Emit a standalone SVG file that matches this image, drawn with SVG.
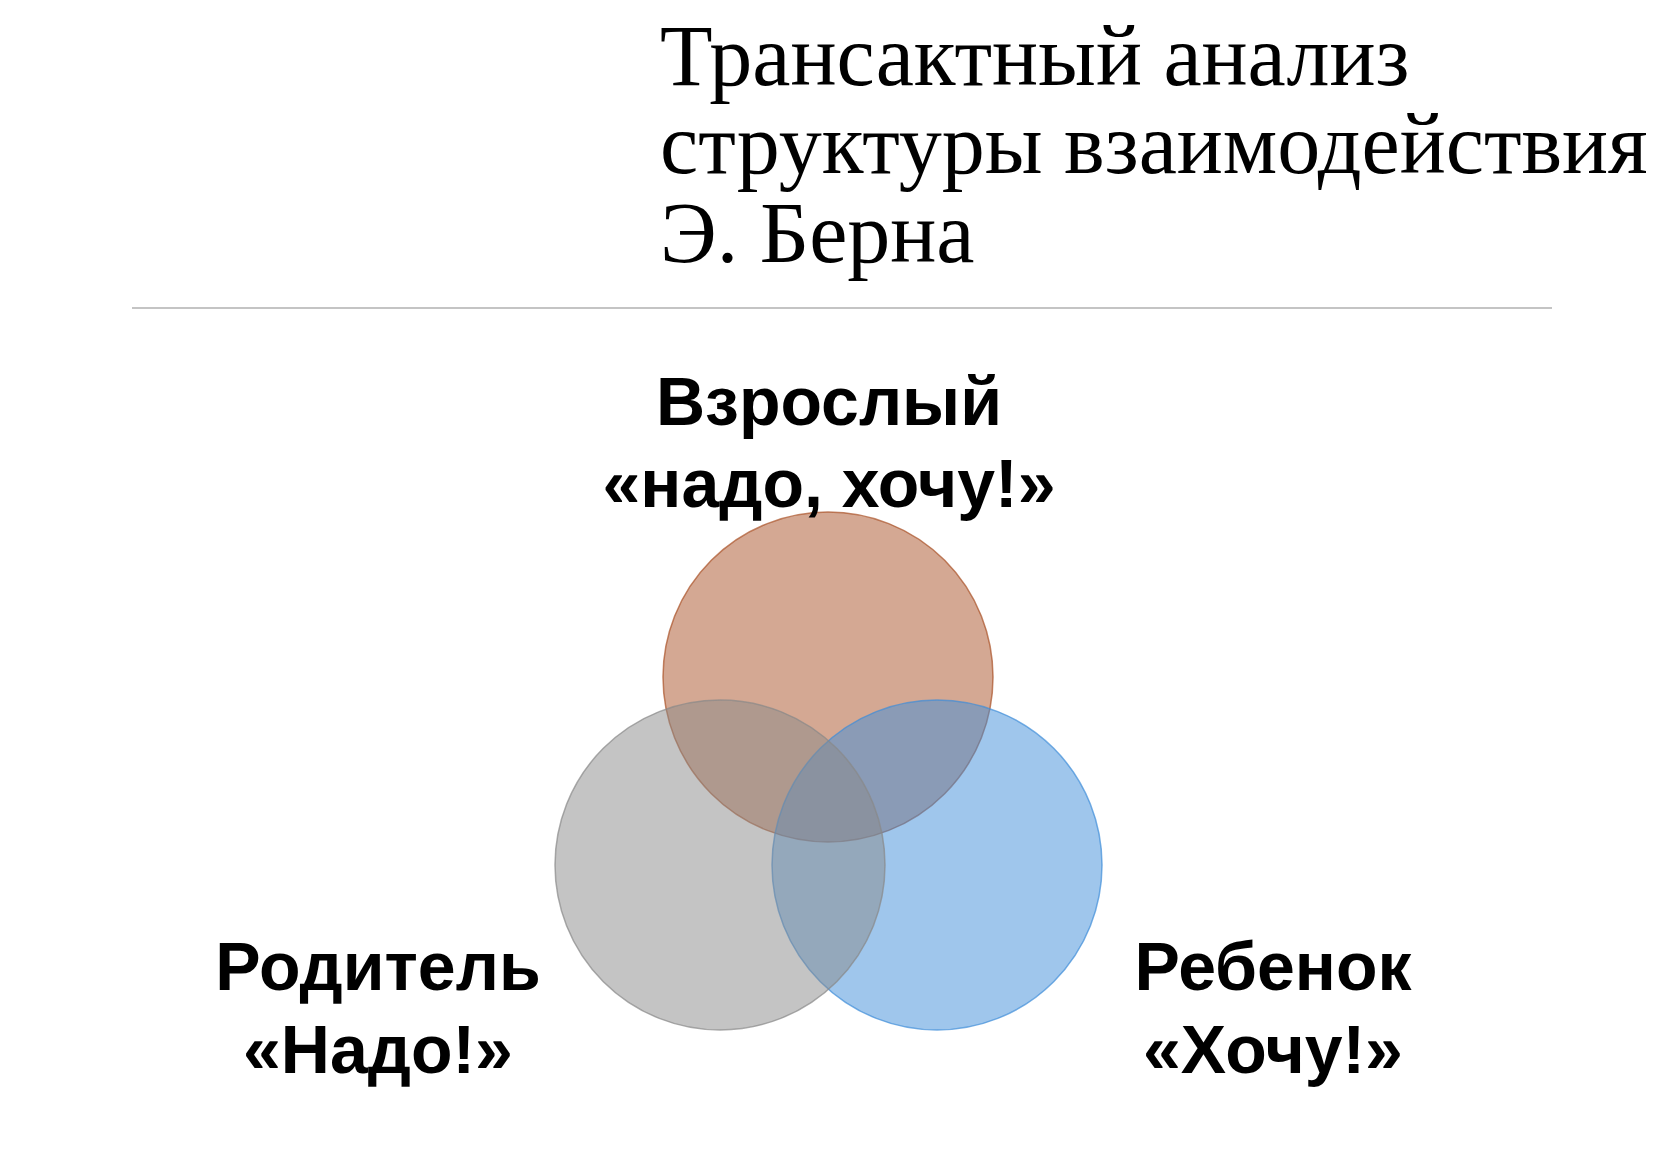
<svg xmlns="http://www.w3.org/2000/svg" width="1680" height="1156" viewBox="0 0 1680 1156">
  <style>
    .title { font-family: "Liberation Serif", "Times New Roman", serif; font-size: 86px; fill: #000; }
    .label { font-family: "Liberation Sans", Arial, sans-serif; font-size: 68px; font-weight: bold; fill: #000; text-anchor: middle; }
    .circle { fill-opacity: 0.5; stroke-width: 1.5; stroke-opacity: 0.7; }
  </style>
  <rect width="1680" height="1156" fill="#ffffff"/>
  <g id="title">
    <text class="title" x="660" y="85">Трансактный анализ</text>
    <text class="title" x="660" y="173">структуры взаимодействия</text>
    <text class="title" x="660" y="262">Э. Берна</text>
  </g>
  <line id="separator" x1="132" y1="308" x2="1552" y2="308" stroke="#c4c4c4" stroke-width="2"/>
  <g id="connectors"/>
  <g id="node-adult">
    <circle class="circle" cx="828" cy="677" r="165" fill="#a95127" stroke="#a95127"/>
    <text class="label" x="829" y="425">Взрослый</text>
    <text class="label" x="829" y="507">«надо, хочу!»</text>
  </g>
  <g id="node-child">
    <circle class="circle" cx="937" cy="865" r="165" fill="#3f8dd9" stroke="#3f8dd9"/>
    <text class="label" x="1273" y="990">Ребенок</text>
    <text class="label" x="1273" y="1073">«Хочу!»</text>
  </g>
  <g id="node-parent">
    <circle class="circle" cx="720" cy="865" r="165" fill="#898989" stroke="#898989"/>
    <text class="label" x="378" y="990">Родитель</text>
    <text class="label" x="378" y="1073">«Надо!»</text>
  </g>
</svg>
